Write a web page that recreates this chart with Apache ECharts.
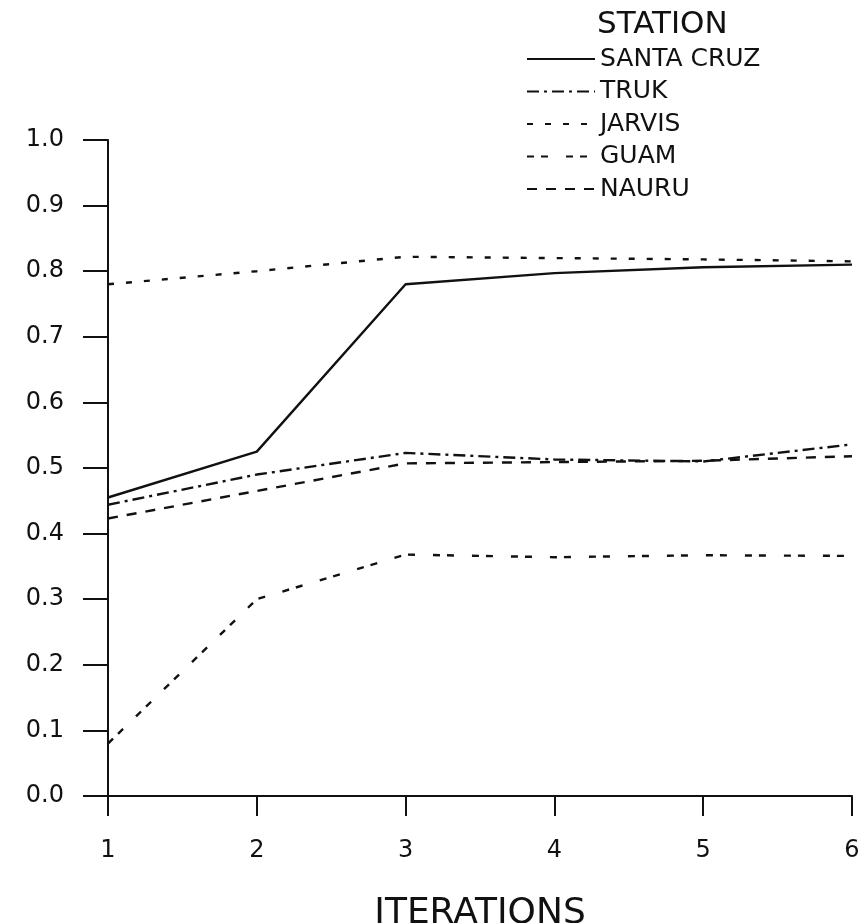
<!DOCTYPE html>
<html>
<head>
<meta charset="utf-8">
<script src="https://cdn.jsdelivr.net/npm/echarts@6/dist/echarts.min.js"></script>
<style>
  html, body { margin: 0; padding: 0; background: #fff; }
  #chart { width: 860px; height: 923px; }
</style>
</head>
<body>
<div id="chart"></div>
<script>
// Iteration number on the x axis
const iterations = [1, 2, 3, 4, 5, 6];

// Values per station, one per iteration
const santaCruz = [0.455, 0.525, 0.780, 0.797, 0.806, 0.810];
const truk      = [0.444, 0.490, 0.523, 0.513, 0.510, 0.536];
const jarvis    = [0.780, 0.800, 0.822, 0.820, 0.818, 0.815];
const guam      = [0.080, 0.300, 0.368, 0.364, 0.367, 0.366];
const nauru     = [0.423, 0.465, 0.507, 0.509, 0.511, 0.518];

const stationNames = ['SANTA CRUZ', 'TRUK', 'JARVIS', 'GUAM', 'NAURU'];
const stationValues = [santaCruz, truk, jarvis, guam, nauru];

// Dash pattern for each station's line
const dashes = ['solid', [12, 5, 3, 5], [6, 12], [7, 7, 7, 18], [10, 9]];

const FONT = 'DejaVu Sans';
const INK = '#111';

const series = stationNames.map((name, i) => ({
  name: name,
  type: 'line',
  symbol: 'none',
  data: iterations.map((x, j) => [x, stationValues[i][j]]),
  lineStyle: { color: INK, width: 2.4, type: dashes[i] },
  itemStyle: { color: INK }
}));

const chart = echarts.init(document.getElementById('chart'), null, { renderer: 'canvas' });
chart.setOption({
  animation: false,
  backgroundColor: '#fff',
  title: {
    text: 'STATION',
    left: 597,
    top: 9,
    padding: 0,
    textStyle: { fontFamily: FONT, fontSize: 31, fontWeight: 'normal', color: INK }
  },
  legend: {
    orient: 'vertical',
    left: 526,
    top: 44,
    padding: 0,
    itemWidth: 68,
    itemHeight: 20,
    itemGap: 2.5,
    data: stationNames,
    itemStyle: { opacity: 0 },
    textStyle: { fontFamily: FONT, fontSize: 25, color: INK, lineHeight: 30 },
    selectedMode: false
  },
  grid: { left: 108, right: 8, top: 140, bottom: 127, outerBoundsMode: 'none' },
  xAxis: {
    type: 'value',
    min: 1,
    max: 6,
    interval: 1,
    name: 'ITERATIONS',
    nameLocation: 'middle',
    nameGap: 100,
    nameTextStyle: { fontFamily: FONT, fontSize: 36, color: INK },
    axisLine: { lineStyle: { color: INK, width: 2 } },
    axisTick: { inside: false, length: 20, lineStyle: { color: INK, width: 2 } },
    axisLabel: { margin: 43, fontFamily: FONT, fontSize: 24, color: INK },
    splitLine: { show: false }
  },
  yAxis: {
    type: 'value',
    min: 0,
    max: 1,
    interval: 0.1,
    axisLine: { show: true, lineStyle: { color: INK, width: 2 } },
    axisTick: { show: true, length: 25, lineStyle: { color: INK, width: 2 } },
    axisLabel: {
      margin: 44,
      fontFamily: FONT,
      fontSize: 24,
      color: INK,
      formatter: v => v.toFixed(1)
    },
    splitLine: { show: false }
  },
  series: series
});
</script>
</body>
</html>
